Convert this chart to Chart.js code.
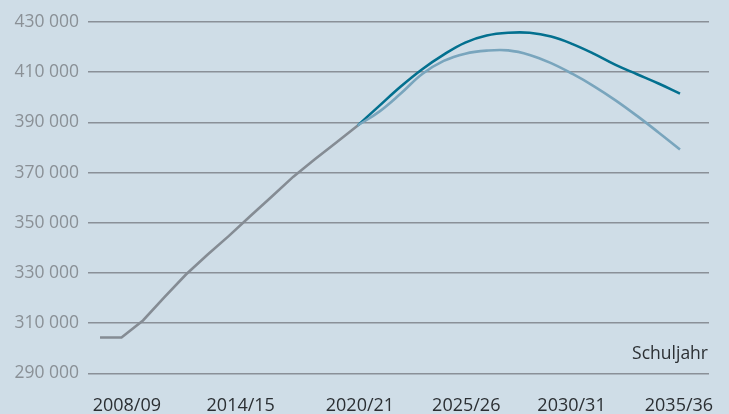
<!DOCTYPE html>
<html>
<head>
<meta charset="utf-8">
<script src="https://cdn.jsdelivr.net/npm/chart.js@4/dist/chart.umd.min.js"></script>
<style>
  html, body { margin: 0; padding: 0; background: #cfdde7; }
  #wrap { width: 729px; height: 414px; position: relative; }
</style>
</head>
<body>
<div id="wrap"><canvas id="c" width="729" height="414"></canvas></div>
<script>
// School years (start year of the school year)
const historyYears = [2008, 2009, 2010, 2011, 2012, 2013, 2014, 2015, 2016, 2017, 2018, 2019, 2020];
const historyValues = [304300, 304300, 311100, 320400, 329400, 337300, 344800, 352700, 360500, 368400, 375300, 382000, 388800];

const projectionYears = [2020, 2021, 2022, 2023, 2024, 2025, 2026, 2027, 2028, 2029, 2030, 2031, 2032, 2033, 2034, 2035];
const projectionHigh = [388800, 396600, 404300, 411200, 417000, 421800, 424600, 425700, 425700, 424200, 421200, 417300, 412900, 409200, 405500, 401500];
const projectionLow = [388800, 394300, 401500, 409300, 414500, 417400, 418600, 418700, 416900, 413600, 409300, 404400, 398800, 392600, 386000, 379200];

const tickLabels = ["2008/09", "2014/15", "2020/21", "2025/26", "2030/31", "2035/36"];
const tickPositions = [2009.25, 2014.55, 2020.1, 2025.05, 2029.95, 2034.95];
const yTickValues = [290000, 310000, 330000, 350000, 370000, 390000, 410000, 430000];

const FONT = "'Open Sans', 'Noto Sans', sans-serif";

function pts(xs, ys) { return xs.map((x, i) => ({ x: x, y: ys[i] })); }

const axisNote = {
  id: 'axisNote',
  afterDraw(chart) {
    const ctx = chart.ctx, a = chart.chartArea;
    ctx.save();
    ctx.font = "17.5px " + FONT;
    ctx.fillStyle = '#2b2f33';
    ctx.textAlign = 'right';
    ctx.textBaseline = 'middle';
    ctx.fillText('Schuljahr', a.right - 1, chart.scales.y.getPixelForValue(297900));
    ctx.restore();
  }
};

new Chart(document.getElementById('c'), {
  type: 'line',
  data: {
    datasets: [
      { data: pts(projectionYears, projectionLow), borderColor: '#79a5bd', borderWidth: 2.6, pointRadius: 0, tension: 0.4, fill: false },
      { data: pts(projectionYears, projectionHigh), borderColor: '#03708f', borderWidth: 2.6, pointRadius: 0, tension: 0.4, fill: false },
      { data: pts(historyYears, historyValues), borderColor: '#858c94', borderWidth: 2.6, pointRadius: 0, tension: 0, fill: false }
    ]
  },
  options: {
    responsive: false,
    animation: false,
    events: [],
    layout: { padding: { top: 9, right: 20, left: 0, bottom: 0 } },
    plugins: { legend: { display: false }, tooltip: { enabled: false } },
    scales: {
      x: {
        type: 'linear',
        min: 2007.44,
        max: 2036.35,
        grid: { display: false, drawTicks: false },
        border: { display: false },
        afterBuildTicks(scale) { scale.ticks = tickPositions.map(v => ({ value: v })); },
        afterFit(scale) { scale.height = 28; },
        ticks: {
          autoSkip: false,
          maxRotation: 0,
          padding: 9,
          color: '#2b2f33',
          font: { family: FONT, size: 18 },
          callback(value) {
            const i = tickPositions.indexOf(value);
            return i >= 0 ? tickLabels[i] : '';
          }
        }
      },
      y: {
        min: 285000,
        max: 431000,
        grid: { color: '#8a9098', lineWidth: 1.5, drawTicks: false },
        border: { display: false },
        afterBuildTicks(scale) { scale.ticks = yTickValues.map(v => ({ value: v })); },
        afterFit(scale) { scale.width = 88; },
        ticks: {
          padding: 9,
          color: '#8a9096',
          font: { family: FONT, size: 17.5 },
          callback(value) { return String(value).replace(/(\d{3})$/, ' $1'); }
        }
      }
    }
  },
  plugins: [axisNote]
});
</script>
</body>
</html>
